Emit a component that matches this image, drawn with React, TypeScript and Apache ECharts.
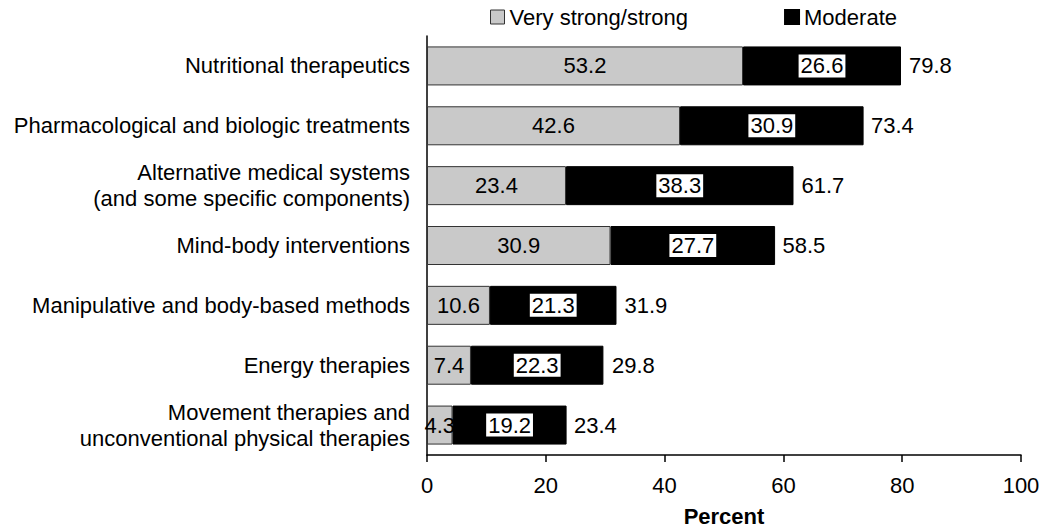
import React, { useEffect, useRef } from "react";
import * as echarts from "echarts";

const categories = [
  "Nutritional therapeutics",
  "Pharmacological and biologic treatments",
  "Alternative medical systems\n(and some specific components)",
  "Mind-body interventions",
  "Manipulative and body-based methods",
  "Energy therapies",
  "Movement therapies and\nunconventional physical therapies",
];
const strongValues = [53.2, 42.6, 23.4, 30.9, 10.6, 7.4, 4.3];
const moderateValues = [26.6, 30.9, 38.3, 27.7, 21.3, 22.3, 19.2];
const totalValues = [79.8, 73.4, 61.7, 58.5, 31.9, 29.8, 23.4];
const xTicks = [0, 20, 40, 60, 80, 100];

const FONT = "'Liberation Sans', Arial, Helvetica, sans-serif";
const FS = 22;

export default function App() {
  const ref = useRef<HTMLDivElement>(null);
  useEffect(() => {
    if (!ref.current) return;
    const chart = echarts.init(ref.current, undefined, { renderer: "svg" });
    chart.setOption({
      animation: false,
      textStyle: { fontFamily: FONT, color: "#000" },
      legend: {
        top: 1,
        left: 485,
        itemWidth: 14,
        itemHeight: 14,
        itemGap: 96,
        textStyle: { fontFamily: FONT, fontSize: FS, color: "#000" },
        data: [
          { name: "Very strong/strong", icon: "rect", itemStyle: { color: "#c9c9c9", borderColor: "#333", borderWidth: 1 } },
          { name: "Moderate", icon: "rect", itemStyle: { color: "#000" } },
        ],
      },
      grid: { left: 427, right: 29, top: 36, bottom: 76, containLabel: false },
      xAxis: {
        type: "value",
        min: xTicks[0],
        max: xTicks[xTicks.length - 1],
        interval: 20,
        name: "Percent",
        nameLocation: "middle",
        nameGap: 50,
        nameTextStyle: { fontFamily: FONT, fontSize: FS, fontWeight: "bold", color: "#000" },
        axisLine: { show: true, lineStyle: { color: "#000", width: 1.5 } },
        axisTick: { show: true, length: 7, lineStyle: { color: "#000", width: 1.5 } },
        axisLabel: { fontFamily: FONT, fontSize: FS, color: "#000", margin: 19 },
        splitLine: { show: false },
      },
      yAxis: {
        type: "category",
        inverse: true,
        data: categories,
        axisLine: { show: true, lineStyle: { color: "#000", width: 1.5 } },
        axisTick: { show: false },
        axisLabel: { fontFamily: FONT, fontSize: FS, color: "#000", margin: 17, lineHeight: 26, align: "right" },
      },
      series: [
        {
          name: "Very strong/strong",
          type: "bar",
          stack: "a",
          barWidth: 39,
          data: strongValues,
          itemStyle: { color: "#c9c9c9", borderColor: "#333", borderWidth: 1 },
          label: {
            show: true,
            position: "inside",
            fontFamily: FONT,
            fontSize: FS,
            color: "#000",
          },
        },
        {
          name: "Moderate",
          type: "bar",
          stack: "a",
          barWidth: 39,
          data: moderateValues,
          itemStyle: { color: "#000", borderColor: "#000", borderWidth: 1 },
          label: {
            show: true,
            position: "inside",
            fontFamily: FONT,
            fontSize: FS,
            color: "#000",
            backgroundColor: "#fff",
            padding: [1, 2, 0, 2],
          },
        },
        {
          name: "Total",
          type: "bar",
          barWidth: 39,
          barGap: "-100%",
          data: totalValues,
          itemStyle: { color: "rgba(0,0,0,0)" },
          label: {
            show: true,
            position: "right",
            distance: 8,
            fontFamily: FONT,
            fontSize: FS,
            color: "#000",
          },
          z: 1,
          silent: true,
        },
      ],
    });
    return () => chart.dispose();
  }, []);
  return <div ref={ref} style={{ width: 1050, height: 532, position: "absolute", left: 0, top: 0 }} />;
}
